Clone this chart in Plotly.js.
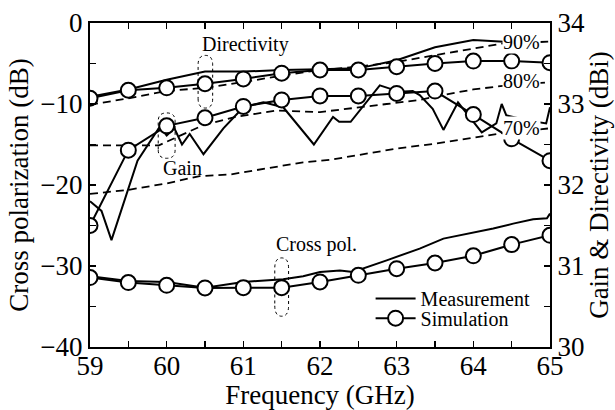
<!DOCTYPE html>
<html>
<head>
<meta charset="utf-8">
<script src="https://cdn.plot.ly/plotly-3.0.1.min.js"></script>
<style>
  html, body { margin: 0; padding: 0; background: #fff; }
  #chart { width: 615px; height: 410px; }
</style>
</head>
<body>
<div id="chart"></div>
<script>
// ---- Data ----
// Simulation (sampled every 0.5 GHz)
const freqSim = [59, 59.5, 60, 60.5, 61, 61.5, 62, 62.5, 63, 63.5, 64, 64.5, 65];
const directivitySim = [33.07, 33.17, 33.20, 33.25, 33.31, 33.38, 33.42, 33.42, 33.46, 33.50, 33.53, 33.53, 33.51];
const gainSim = [31.50, 32.43, 32.73, 32.83, 32.97, 33.05, 33.10, 33.10, 33.13, 33.16, 32.87, 32.57, 32.30];
const crossPolSim = [-31.43, -32.05, -32.38, -32.71, -32.67, -32.67, -31.97, -31.15, -30.33, -29.63, -28.74, -27.36, -26.21];

// Measurement: directivity
const dirMeasFreq = [59, 59.5, 60, 60.5, 61, 61.5, 62, 62.5, 63, 63.5, 64, 64.4];
const dirMeas = [33.09, 33.18, 33.30, 33.40, 33.40, 33.42, 33.43, 33.44, 33.54, 33.70, 33.79, 33.77];

// Measurement: gain
const gainMeasFreq = [59, 59.15, 59.28, 59.5, 59.62, 59.91, 60, 60.1, 60.2, 60.3, 60.48, 60.74, 61, 61.26, 61.52, 61.92, 62.17, 62.25, 62.4, 62.78, 63.04, 63.21, 63.3, 63.47, 63.61, 63.8, 64.11, 64.3, 64.37, 64.43, 64.7, 64.95, 65];
const gainMeas = [31.80, 31.68, 31.32, 31.95, 32.30, 32.72, 32.61, 32.70, 32.50, 32.63, 32.38, 32.70, 32.96, 33.02, 32.96, 32.50, 32.84, 32.78, 32.78, 33.23, 33.15, 33.16, 33.11, 32.94, 32.68, 33.02, 32.65, 32.76, 33.00, 32.86, 32.80, 32.76, 32.96];

// Measurement: cross polarization
const xpolMeasFreq = [59, 59.5, 60, 60.5, 61, 61.26, 61.52, 61.78, 62, 62.26, 62.43, 62.87, 63.3, 63.61, 63.96, 64.26, 64.52, 64.78, 64.96, 65];
const xpolMeas = [-31.27, -31.85, -31.97, -32.67, -31.97, -31.85, -31.64, -31.27, -30.74, -30.55, -30.74, -29.30, -27.85, -26.62, -26.00, -25.38, -24.77, -24.24, -24.10, -23.53];

// Efficiency reference curves (dashed)
const eff90Freq = [59, 59.5, 60, 60.5, 61, 61.5, 62, 62.5, 63, 63.5, 64, 64.4, 65];
const eff90 = [32.99, 33.07, 33.16, 33.20, 33.27, 33.35, 33.42, 33.46, 33.52, 33.60, 33.68, 33.75, 33.77];
const eff80Freq = [59, 59.5, 59.9, 60.13, 60.48, 60.9, 61.43, 62, 62.48, 62.87, 63.3, 63.6, 64, 64.35, 65];
const eff80 = [32.49, 32.49, 32.49, 32.59, 32.74, 32.84, 32.92, 32.90, 32.96, 33.00, 33.05, 33.11, 33.18, 33.22, 33.27];
const eff70Freq = [59, 59.35, 59.5, 60, 60.43, 60.83, 61.26, 61.78, 62.13, 62.39, 63, 63.5, 64, 64.37, 65];
const eff70 = [31.89, 31.93, 31.94, 32.02, 32.11, 32.13, 32.20, 32.28, 32.31, 32.35, 32.45, 32.51, 32.59, 32.64, 32.70];

const legendNames = ['Measurement', 'Simulation'];
const effLabels = ['90%', '80%', '70%'];
const curveLabels = ['Directivity', 'Gain', 'Cross pol.'];

// ---- Styles ----
const FONT = 'Liberation Serif';
const f = (size) => ({family: FONT, size: size, color: '#000'});
const solid = {color: '#000', width: 2};
const dashed = {color: '#000', width: 1.8, dash: '8px,5px'};
const circle = {symbol: 'circle', size: 15, color: '#fff', line: {color: '#000', width: 2}};

const traces = [
  {x: xpolMeasFreq, y: xpolMeas, yaxis: 'y', mode: 'lines', line: solid, name: legendNames[0], showlegend: true, legend: 'legend'},
  {x: freqSim, y: crossPolSim, yaxis: 'y', mode: 'lines+markers', line: solid, marker: circle, name: legendNames[1], showlegend: true, legend: 'legend2'},
  {x: eff90Freq, y: eff90, yaxis: 'y2', mode: 'lines', line: dashed, showlegend: false},
  {x: eff80Freq, y: eff80, yaxis: 'y2', mode: 'lines', line: dashed, showlegend: false},
  {x: eff70Freq, y: eff70, yaxis: 'y2', mode: 'lines', line: dashed, showlegend: false},
  {x: dirMeasFreq, y: dirMeas, yaxis: 'y2', mode: 'lines', line: solid, showlegend: false},
  {x: gainMeasFreq, y: gainMeas, yaxis: 'y2', mode: 'lines', line: solid, showlegend: false},
  {x: freqSim, y: directivitySim, yaxis: 'y2', mode: 'lines+markers', line: solid, marker: circle, showlegend: false},
  {x: freqSim, y: gainSim, yaxis: 'y2', mode: 'lines+markers', line: solid, marker: circle, showlegend: false}
];

function capsule(x0, x1, y0, y1) {
  const rx = (x1 - x0) / 2, ry = (y1 - y0) * 0.18;
  return {
    type: 'path', xref: 'x', yref: 'y',
    path: `M${x0},${y0 + ry} Q${x0},${y0} ${x0 + rx},${y0} Q${x1},${y0} ${x1},${y0 + ry} ` +
          `L${x1},${y1 - ry} Q${x1},${y1} ${x0 + rx},${y1} Q${x0},${y1} ${x0},${y1 - ry} Z`,
    line: {color: '#000', width: 1, dash: 'dot'}
  };
}

function axisBase() {
  return {
    ticks: 'inside', ticklen: 6, tickwidth: 1.5, tickcolor: '#000',
    showline: true, linewidth: 2, linecolor: '#000',
    showgrid: false, zeroline: false,
    tickfont: f(27)
  };
}

function legendBox(y) {
  return {x: 0.61, y: y, xanchor: 'left', yanchor: 'middle', bgcolor: 'rgba(0,0,0,0)',
          font: f(20), itemwidth: 40};
}

const layout = {
  width: 615, height: 410,
  margin: {l: 90, r: 65, t: 23, b: 63},
  paper_bgcolor: '#fff', plot_bgcolor: '#fff',
  font: f(20),
  showlegend: true,
  legend: legendBox(0.150),
  legend2: legendBox(0.089),
  xaxis: Object.assign(axisBase(), {
    range: [59, 65], tick0: 59, dtick: 1, mirror: 'allticks', ticklabelstandoff: -6,
    minor: {dtick: 0.5, ticks: 'inside', ticklen: 6, tickwidth: 1.5, tickcolor: '#000'},
    title: {text: 'Frequency (GHz)', font: f(27), standoff: 2}
  }),
  yaxis: Object.assign(axisBase(), {
    range: [-40, 0], tick0: 0, dtick: 10,
    minor: {dtick: 5, ticks: 'inside', ticklen: 6, tickwidth: 1.5, tickcolor: '#000'},
    title: {text: 'Cross polarization (dB)', font: f(27), standoff: 4}
  }),
  yaxis2: Object.assign(axisBase(), {
    range: [30, 34], tick0: 30, dtick: 1, overlaying: 'y', side: 'right',
    minor: {dtick: 0.5, ticks: 'inside', ticklen: 6, tickwidth: 1.5, tickcolor: '#000'},
    title: {text: 'Gain &amp; Directivity (dBi)', font: f(27), standoff: 4}
  }),
  shapes: [
    capsule(60.41, 60.60, -10.5, -4.0),
    capsule(59.89, 60.11, -16.7, -11.1),
    capsule(61.41, 61.59, -36.2, -29.0)
  ],
  annotations: [
    {text: curveLabels[0], x: 61.03, y: -2.6, xref: 'x', yref: 'y', showarrow: false, font: f(20)},
    {text: curveLabels[1], x: 60.2, y: -17.9, xref: 'x', yref: 'y', showarrow: false, font: f(20)},
    {text: curveLabels[2], x: 61.96, y: -27.4, xref: 'x', yref: 'y', showarrow: false, font: f(20)},
    {text: effLabels[0], x: 64.63, y: -2.3, xref: 'x', yref: 'y', showarrow: false, bgcolor: '#fff', borderpad: 0, font: f(20)},
    {text: effLabels[1], x: 64.63, y: -7.1, xref: 'x', yref: 'y', showarrow: false, bgcolor: '#fff', borderpad: 0, font: f(20)},
    {text: effLabels[2], x: 64.63, y: -13.0, xref: 'x', yref: 'y', showarrow: false, bgcolor: '#fff', borderpad: 0, font: f(20)}
  ]
};

Plotly.newPlot('chart', traces, layout, {displayModeBar: false, staticPlot: true});
</script>
</body>
</html>
